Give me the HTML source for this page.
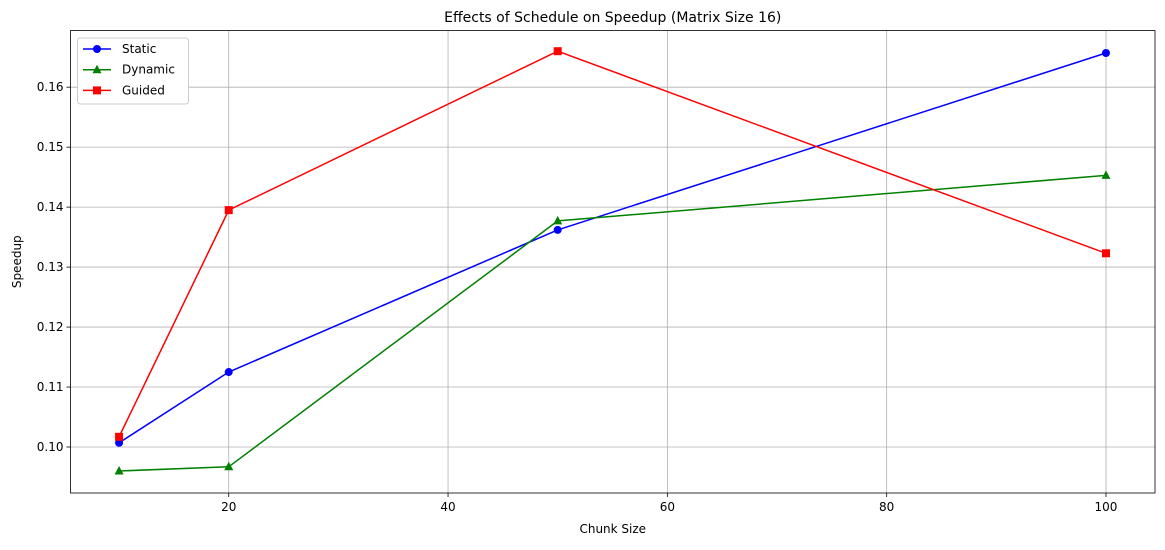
<!DOCTYPE html>
<html><head><meta charset="utf-8"><style>
body{margin:0;background:#fff;font-family:"Liberation Sans","DejaVu Sans",sans-serif}
svg text{font-family:"DejaVu Sans","Liberation Sans",sans-serif;fill:#000}
</style></head><body>
<svg id="chart" width="1165" height="545"></svg>
<script>
const chunkSizes=[10,20,50,100];
const staticVals=[0.1007,0.1125,0.1362,0.1657];
const dynamicVals=[0.0960,0.0967,0.1377,0.1453];
const guidedVals=[0.1017,0.1395,0.1660,0.1323];
const xTicks=[20,40,60,80,100];
const yTicks=[0.10,0.11,0.12,0.13,0.14,0.15,0.16];
const L=70.5,R=1155,T=30.5,B=493,xmin=5.57,xmax=104.47,ymin=0.09233,ymax=0.16945;
const sx=v=>L+(v-xmin)/(xmax-xmin)*(R-L);
const sy=v=>B-(v-ymin)/(ymax-ymin)*(B-T);
const svg=document.getElementById('chart');const NS='http://www.w3.org/2000/svg';
function mk(t,a,p){const e=document.createElementNS(NS,t);for(const k in a)e.setAttribute(k,a[k]);(p||svg).appendChild(e);return e;}
xTicks.forEach(v=>{const x=sx(v);
const g=mk('line',{x1:x,x2:x,y1:T,y2:B,stroke:'#b0b0b0','stroke-width':0.8});


mk('line',{x1:x,x2:x,y1:B,y2:B+4,stroke:'#000','stroke-width':0.8});
const t=mk('text',{x:x,y:B+18,'text-anchor':'middle','font-size':12});t.textContent=v;

});
yTicks.forEach(v=>{const y=sy(v);
const g=mk('line',{x1:L,x2:R,y1:y,y2:y,stroke:'#b0b0b0','stroke-width':0.8});


mk('line',{x1:L-4,x2:L,y1:y,y2:y,stroke:'#000','stroke-width':0.8});
const t=mk('text',{x:L-7,y:y+4,'text-anchor':'end','font-size':12});t.textContent=v.toFixed(2);

});
const fr=mk('rect',{x:L,y:T,width:R-L,height:B-T,fill:'none',stroke:'#000','stroke-width':0.8});


function series(vals,color,marker,name){
const pts=chunkSizes.map((c,i)=>sx(c)+','+sy(vals[i])).join(' ');
const pl=mk('polyline',{points:pts,fill:'none',stroke:color,'stroke-width':1.5});


chunkSizes.forEach((c,i)=>{const x=sx(c),y=sy(vals[i]);let m;
if(marker==='o')m=mk('circle',{cx:x,cy:y,r:4,fill:color});
else if(marker==='^')m=mk('polygon',{points:`${x},${y-5} ${x-4.5},${y+3.5} ${x+4.5},${y+3.5}`,fill:color});
else m=mk('rect',{x:x-4,y:y-4,width:8,height:8,fill:color});

});}
series(staticVals,'#0000ff','o','static');
series(dynamicVals,'#008000','^','dynamic');
series(guidedVals,'#ff0000','s','guided');
const title=mk('text',{x:(L+R)/2,y:22,'text-anchor':'middle','font-size':14});title.textContent='Effects of Schedule on Speedup (Matrix Size 16)';


const xl=mk('text',{x:(L+R)/2,y:533,'text-anchor':'middle','font-size':12});xl.textContent='Chunk Size';


const yl=mk('text',{x:21,y:(T+B)/2,'text-anchor':'middle','font-size':12,transform:`rotate(-90 21 ${(T+B)/2})`});yl.textContent='Speedup';


const lg=mk('g',{});


mk('rect',{x:77.5,y:38,width:111,height:66,fill:'#fff',stroke:'#ccc',rx:3},lg);
[['Static','#0000ff','o'],['Dynamic','#008000','^'],['Guided','#ff0000','s']].forEach((d,i)=>{
const y=49+i*20.7;
mk('line',{x1:83,x2:111,y1:y,y2:y,stroke:d[1],'stroke-width':1.5},lg);
if(d[2]==='o')mk('circle',{cx:97,cy:y,r:4,fill:d[1]},lg);
else if(d[2]==='^')mk('polygon',{points:`97,${y-5} 92.5,${y+3.5} 101.5,${y+3.5}`,fill:d[1]},lg);
else mk('rect',{x:93,y:y-4,width:8,height:8,fill:d[1]},lg);
const t=mk('text',{x:122,y:y+4,'font-size':12},lg);t.textContent=d[0];

});
</script>
</body></html>
